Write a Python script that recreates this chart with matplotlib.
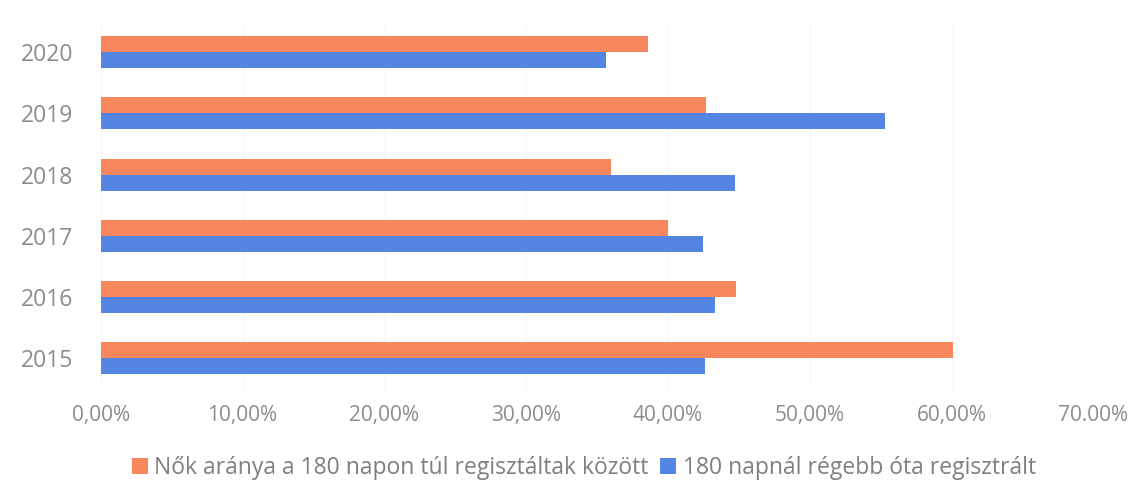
import numpy as np
import matplotlib
matplotlib.use("Agg")
import matplotlib.pyplot as plt
from matplotlib.ticker import FixedLocator, FixedFormatter

years = ["2015", "2016", "2017", "2018", "2019", "2020"]
nok_arany = [60.1, 44.8, 40.0, 36.0, 42.7, 38.6]
regebb_180 = [42.6, 43.3, 42.5, 44.7, 55.3, 35.6]
x_ticks = [0, 10, 20, 30, 40, 50, 60, 70]
x_labels = ["0,00%", "10,00%", "20,00%", "30,00%", "40,00%", "50,00%", "60,00%", "70.00%"]
legend_labels = ["Nők aránya a 180 napon túl regisztáltak között",
                 "180 napnál régebb óta regisztrált"]

orange = "#F9875D"
blue = "#5585E3"
grey = "#8C8C8C"

plt.rcParams['font.family'] = ['Open Sans', 'DejaVu Sans']

fig = plt.figure(figsize=(11.45, 4.8), dpi=100)
ax = fig.add_axes([0.088, 0.19, 0.867, 0.765])

y = np.arange(len(years))
h = 0.26
ax.barh(y + h / 2, nok_arany, height=h, color=orange, label=legend_labels[0], zorder=2)
ax.barh(y - h / 2, regebb_180, height=h, color=blue, label=legend_labels[1], zorder=2)

ax.set_xlim(0, 70)
ax.set_ylim(-0.5, len(years) - 0.5)
ax.xaxis.set_major_locator(FixedLocator(x_ticks))
ax.xaxis.set_major_formatter(FixedFormatter(x_labels))
ax.set_yticks(y)
ax.set_yticklabels(years)
ax.grid(axis="x", color="#F8F8F8", linewidth=1, zorder=0)
for s in ax.spines.values():
    s.set_visible(False)
ax.tick_params(axis="x", length=0, pad=12, labelsize=15, labelcolor=grey)
ax.tick_params(axis="y", length=0, pad=20, labelsize=16.5, labelcolor=grey)

fig.legend(loc="lower center", bbox_to_anchor=(0.51, -0.043), ncol=2, frameon=False,
           fontsize=16.5, labelcolor="#7F7F7F", handlelength=0.7, handleheight=0.7,
           handletextpad=0.3, columnspacing=0.5)

fig.savefig("out.png", dpi=100)
